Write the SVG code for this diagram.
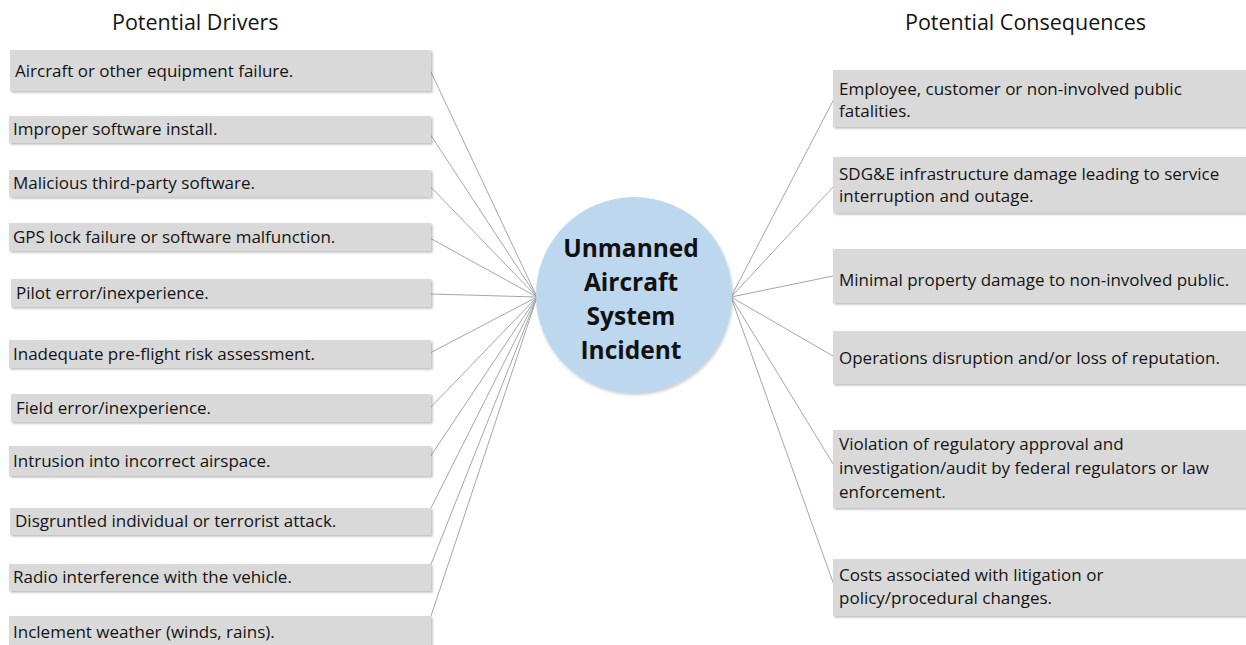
<svg xmlns="http://www.w3.org/2000/svg" width="1246" height="645" viewBox="0 0 1246 645">
<style>
.bg{fill:#ffffff}
.box{fill:#d9d9d9;filter:url(#sh)}
.t{font-family:"Open Sans","Liberation Sans",sans-serif;font-size:17px;fill:#141414}
.h{font-family:"Open Sans","Liberation Sans",sans-serif;font-size:21.5px;fill:#141414}
.c{font-family:"Open Sans","Liberation Sans",sans-serif;font-size:24.5px;font-weight:bold;fill:#111111;text-anchor:middle}
.ln{stroke:#a6a6a6;stroke-width:1;fill:none}
</style>
<defs>
<filter id="sh" x="-5%" y="-20%" width="110%" height="150%">
<feDropShadow dx="1.5" dy="1.5" stdDeviation="1" flood-color="#7f7f7f" flood-opacity="0.55"/>
</filter>
<filter id="csh" x="-10%" y="-10%" width="120%" height="120%">
<feDropShadow dx="1" dy="2" stdDeviation="1.5" flood-color="#7f7f7f" flood-opacity="0.4"/>
</filter>
</defs>
<rect class="bg" x="0" y="0" width="1246" height="645"/>
<text class="h" x="112" y="30">Potential Drivers</text>
<text class="h" x="905" y="30">Potential Consequences</text>

<g id="connectors">
<line class="ln" x1="430" y1="70" x2="537" y2="297"/>
<line class="ln" x1="428" y1="131" x2="537" y2="297"/>
<line class="ln" x1="428" y1="184" x2="537" y2="297"/>
<line class="ln" x1="428" y1="237" x2="537" y2="297"/>
<line class="ln" x1="430" y1="294" x2="537" y2="297"/>
<line class="ln" x1="428" y1="354" x2="537" y2="297"/>
<line class="ln" x1="430" y1="408" x2="537" y2="297"/>
<line class="ln" x1="428" y1="460" x2="537" y2="297"/>
<line class="ln" x1="428" y1="514" x2="537" y2="297"/>
<line class="ln" x1="428" y1="572" x2="537" y2="297"/>
<line class="ln" x1="428" y1="625" x2="537" y2="297"/>
<line class="ln" x1="731" y1="297" x2="835" y2="97"/>
<line class="ln" x1="731" y1="297" x2="835" y2="185"/>
<line class="ln" x1="731" y1="297" x2="833" y2="276"/>
<line class="ln" x1="731" y1="297" x2="833" y2="356"/>
<line class="ln" x1="731" y1="297" x2="835" y2="467"/>
<line class="ln" x1="731" y1="297" x2="835" y2="588"/>
</g>

<g id="d1"><rect class="box" x="10" y="50" width="421" height="41"/><text class="t" x="15" y="77">Aircraft or other equipment failure.</text></g>
<g id="d2"><rect class="box" x="9" y="116" width="422" height="27"/><text class="t" x="13" y="135">Improper software install.</text></g>
<g id="d3"><rect class="box" x="9" y="170" width="422" height="27"/><text class="t" x="13" y="189">Malicious third-party software.</text></g>
<g id="d4"><rect class="box" x="9" y="223" width="422" height="28"/><text class="t" x="13" y="243">GPS lock failure or software malfunction.</text></g>
<g id="d5"><rect class="box" x="11" y="279" width="420" height="28"/><text class="t" x="16" y="299">Pilot error/inexperience.</text></g>
<g id="d6"><rect class="box" x="9" y="340" width="422" height="28"/><text class="t" x="13" y="360">Inadequate pre-flight risk assessment.</text></g>
<g id="d7"><rect class="box" x="11" y="394" width="420" height="28"/><text class="t" x="16" y="414">Field error/inexperience.</text></g>
<g id="d8"><rect class="box" x="9" y="446" width="422" height="30"/><text class="t" x="13" y="467">Intrusion into incorrect airspace.</text></g>
<g id="d9"><rect class="box" x="10" y="508" width="421" height="27"/><text class="t" x="15" y="527">Disgruntled individual or terrorist attack.</text></g>
<g id="d10"><rect class="box" x="9" y="564" width="422" height="27"/><text class="t" x="13" y="583">Radio interference with the vehicle.</text></g>
<g id="d11"><rect class="box" x="9" y="616" width="422" height="32"/><text class="t" x="13" y="638">Inclement weather (winds, rains).</text></g>

<g id="center">
<circle cx="634" cy="295" r="98" fill="#bdd7ee" filter="url(#csh)"/>
<text class="c" x="631" y="257">Unmanned</text>
<text class="c" x="631" y="291">Aircraft</text>
<text class="c" x="631" y="325">System</text>
<text class="c" x="631" y="359">Incident</text>
</g>

<g id="c1"><rect class="box" x="833" y="70" width="420" height="57"/><text class="t" x="839" y="95">Employee, customer or non-involved public</text><text class="t" x="839" y="117">fatalities.</text></g>
<g id="c2"><rect class="box" x="833" y="157" width="420" height="56"/><text class="t" x="839" y="180">SDG&amp;E infrastructure damage leading to service</text><text class="t" x="839" y="202">interruption and outage.</text></g>
<g id="c3"><rect class="box" x="833" y="249" width="420" height="54"/><text class="t" x="839" y="286">Minimal property damage to non-involved public.</text></g>
<g id="c4"><rect class="box" x="833" y="331" width="420" height="53"/><text class="t" x="839" y="364">Operations disruption and/or loss of reputation.</text></g>
<g id="c5"><rect class="box" x="833" y="430" width="420" height="78"/><text class="t" x="839" y="450">Violation of regulatory approval and</text><text class="t" x="839" y="474">investigation/audit by federal regulators or law</text><text class="t" x="839" y="498">enforcement.</text></g>
<g id="c6"><rect class="box" x="833" y="559" width="420" height="57"/><text class="t" x="839" y="581">Costs associated with litigation or</text><text class="t" x="839" y="604">policy/procedural changes.</text></g>
</svg>
